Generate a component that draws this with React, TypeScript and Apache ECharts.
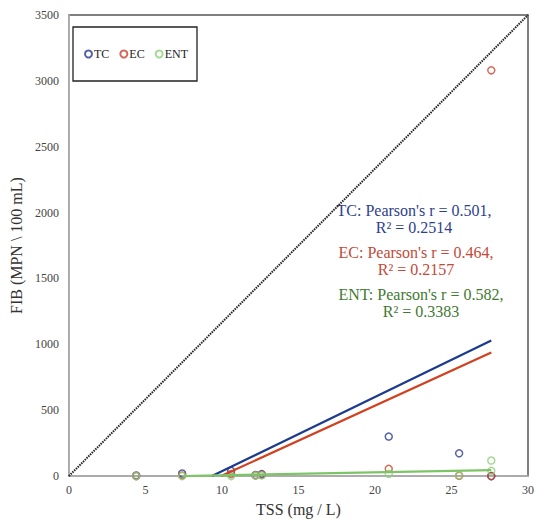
import React, { useEffect, useRef } from "react";
import * as echarts from "echarts";

// Samples: TSS (mg/L) and FIB concentrations (MPN / 100 mL)
const tss = [4.4, 7.4, 10.6, 12.2, 12.6, 20.9, 25.5, 27.6, 27.6];
const tcValues: (number | null)[] = [5, 20, 40, 8, 15, 300, 173, null, 0];
const ecValues: (number | null)[] = [0, 5, 15, 5, 10, 55, 3, 3080, 0];
const entValues: (number | null)[] = [0, 0, 0, 5, 5, 17, 5, 118, 40];

// Linear trend lines (endpoints)
const tcTrend = [[9.35, 0], [27.6, 1030]];
const ecTrend = [[9.95, 0], [27.6, 938]];
const entTrend = [[7.4, 0], [27.6, 45]];
// 1:1 reference line
const refLine = [[0, 0], [30, 3500]];

const xTicks = [0, 5, 10, 15, 20, 25, 30];
const yTicks = [0, 500, 1000, 1500, 2000, 2500, 3000, 3500];

const annotations = [
  { name: "TC", text: "TC: Pearson's r = 0.501,\nR² = 0.2514" },
  { name: "EC", text: "EC: Pearson's r = 0.464,\nR² = 0.2157" },
  { name: "ENT", text: "ENT: Pearson's r = 0.582,\nR² = 0.3383" },
];

const FONT = "'Liberation Serif', 'Times New Roman', serif";
const C_TC = "#2B3B8E";
const C_EC = "#C9452E";
const C_ENT = "#8FD07C";

function pts(vals: (number | null)[]) {
  const out: number[][] = [];
  tss.forEach((x, i) => {
    const v = vals[i];
    if (v !== null && v !== undefined) out.push([x, v]);
  });
  return out;
}

export default function App() {
  const ref = useRef<HTMLDivElement>(null);
  useEffect(() => {
    if (!ref.current) return;
    const chart = echarts.init(ref.current, undefined, { renderer: "svg" });
    const scatterStyle = (c: string) => ({
      color: "rgba(255,255,255,0)",
      borderColor: c,
      borderWidth: 1.5,
    });
    chart.setOption({
      animation: false,
      textStyle: { fontFamily: FONT },
      grid: {
        left: 66,
        right: 2,
        top: 15,
        bottom: 43,
        show: true,
        borderColor: "#555555",
        borderWidth: 1.5,
        backgroundColor: "transparent",
      },
      legend: {
        left: 73,
        top: 27,
        orient: "horizontal",
        data: ["TC", "EC", "ENT"],
        itemWidth: 7,
        itemHeight: 7,
        itemGap: 10,
        padding: [21, 9, 21, 11],
        borderColor: "#222",
        borderWidth: 1.3,
        textStyle: { fontFamily: FONT, fontSize: 12, color: "#222", padding: [0, 0, 0, -3] },
      },
      xAxis: {
        type: "value",
        min: 0,
        max: 30,
        interval: 5,
        name: "TSS (mg / L)",
        nameLocation: "middle",
        nameGap: 22,
        nameTextStyle: { fontFamily: FONT, fontSize: 16, color: "#333" },
        axisLine: { show: true, onZero: false, lineStyle: { color: "#BBBBBB", width: 1.5 } },
        axisTick: { show: false },
        splitLine: { show: false },
        axisLabel: {
          fontFamily: FONT,
          fontSize: 12,
          color: "#444",
          margin: 8,
          formatter: (v: number) => (xTicks.includes(v) ? String(v) : ""),
        },
      },
      yAxis: {
        type: "value",
        min: 0,
        max: 3500,
        interval: 500,
        name: "FIB (MPN \\ 100 mL)",
        nameLocation: "middle",
        nameGap: 39,
        nameTextStyle: { fontFamily: FONT, fontSize: 16, color: "#333" },
        axisLine: { show: true, onZero: false, lineStyle: { color: "#BBBBBB", width: 1.5 } },
        axisTick: { show: false },
        splitLine: { show: false },
        axisLabel: {
          fontFamily: FONT,
          fontSize: 12,
          color: "#444",
          margin: 10,
          formatter: (v: number) => (yTicks.includes(v) ? String(v) : ""),
        },
      },
      series: [
        {
          name: "ref",
          type: "line",
          data: refLine,
          symbol: "none",
          silent: true,
          lineStyle: { color: "#222", width: 2, type: [1.5, 1] },
          z: 1,
        },
        {
          name: "TC",
          type: "scatter",
          data: pts(tcValues),
          symbol: "circle",
          symbolSize: 7,
          itemStyle: scatterStyle(C_TC),
          z: 3,
        },
        {
          name: "EC",
          type: "scatter",
          data: pts(ecValues),
          symbol: "circle",
          symbolSize: 7,
          itemStyle: scatterStyle(C_EC),
          z: 3,
        },
        {
          name: "ENT",
          type: "scatter",
          data: pts(entValues),
          symbol: "circle",
          symbolSize: 7,
          itemStyle: scatterStyle(C_ENT),
          z: 3,
        },
        {
          name: "TC trend",
          type: "line",
          data: tcTrend,
          symbol: "none",
          lineStyle: { color: "#1C3A8E", width: 2.2 },
          z: 4,
        },
        {
          name: "EC trend",
          type: "line",
          data: ecTrend,
          symbol: "none",
          lineStyle: { color: "#D2411F", width: 2.2 },
          z: 4,
        },
        {
          name: "ENT trend",
          type: "line",
          data: entTrend,
          symbol: "none",
          lineStyle: { color: "#7DC466", width: 2.2 },
          z: 4,
        },
      ],
      graphic: [
        {
          type: "text",
          x: 414,
          y: 202,
          style: {
            text: annotations[0].text,
            align: "center",
            verticalAlign: "top",
            font: `16px ${FONT}`,
            lineHeight: 17,
            fill: "#2E3F8C",
          },
        },
        {
          type: "text",
          x: 416,
          y: 244,
          style: {
            text: annotations[1].text,
            align: "center",
            verticalAlign: "top",
            font: `16px ${FONT}`,
            lineHeight: 17,
            fill: "#C24A3A",
          },
        },
        {
          type: "text",
          x: 421,
          y: 286,
          style: {
            text: annotations[2].text,
            align: "center",
            verticalAlign: "top",
            font: `16px ${FONT}`,
            lineHeight: 17,
            fill: "#3E7A30",
          },
        },
      ],
    });
    return () => chart.dispose();
  }, []);
  return (
    <div
      ref={ref}
      style={{ position: "fixed", left: 0, top: 0, width: 537, height: 522, background: "#fff" }}
    />
  );
}
